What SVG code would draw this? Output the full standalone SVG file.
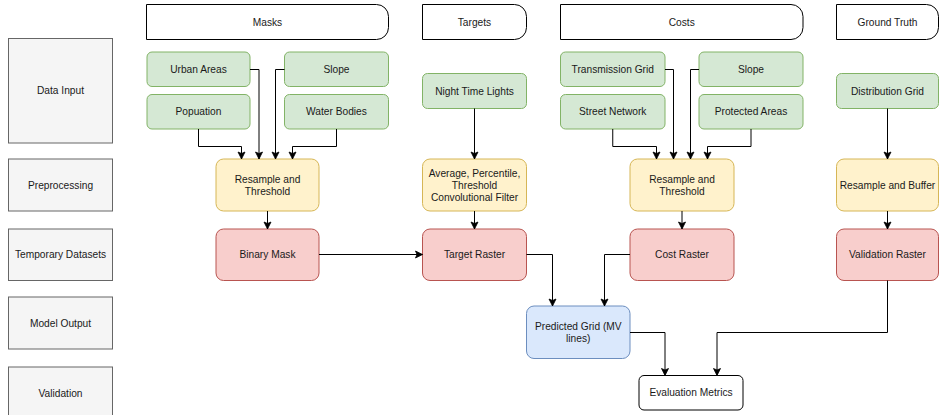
<svg xmlns="http://www.w3.org/2000/svg" width="939" height="415" viewBox="0 0 939 415">
<defs>
<style>
text{font-family:"Liberation Sans",Arial,Helvetica,sans-serif;font-size:10.2px;fill:#1a1a1a;text-anchor:middle;dominant-baseline:central}
.lane{fill:#f5f5f5;stroke:#666666;stroke-width:1}
.hdr{fill:#ffffff;stroke:#000000;stroke-width:1}
.in{fill:#d5e8d4;stroke:#82b366;stroke-width:1}
.pre{fill:#fff2cc;stroke:#d6b656;stroke-width:1}
.tmp{fill:#f8cecc;stroke:#b85450;stroke-width:1}
.out{fill:#dae8fc;stroke:#6c8ebf;stroke-width:1}
.val{fill:#ffffff;stroke:#000000;stroke-width:1}
.edge{fill:none;stroke:#000000;stroke-width:1;marker-end:url(#arr)}
.line{fill:none;stroke:#000000;stroke-width:1}
</style>
<marker id="arr" markerUnits="userSpaceOnUse" markerWidth="10" markerHeight="10" viewBox="0 0 10 10" refX="8" refY="5" orient="auto">
<path d="M1,1.5 L8,5 L1,8.5 L2.5,5 Z" fill="#000000" stroke="#000000" stroke-width="0.8"/>
</marker>
</defs>

<g id="lane-data-input"><rect class="lane" x="8.5" y="38.5" width="104" height="104.5"/><text x="60.5" y="90.7">Data Input</text></g>
<g id="lane-preprocessing"><rect class="lane" x="8.5" y="159" width="104" height="52"/><text x="60.5" y="185">Preprocessing</text></g>
<g id="lane-temporary"><rect class="lane" x="8.5" y="229" width="104" height="51.5"/><text x="60.5" y="254.7">Temporary Datasets</text></g>
<g id="lane-model-output"><rect class="lane" x="8.5" y="297" width="104" height="52"/><text x="60.5" y="323">Model Output</text></g>
<g id="lane-validation"><rect class="lane" x="8.5" y="367" width="104" height="52"/><text x="60.5" y="393">Validation</text></g>

<g id="hdr-masks"><path class="hdr" d="M146.5,4.5 H376.5 A12,12 0 0 1 388.5,16.5 V27.5 A12,12 0 0 1 376.5,39.5 H146.5 Z"/><text x="267.5" y="22">Masks</text></g>
<g id="hdr-targets"><path class="hdr" d="M422.5,4.5 H514.5 A12,12 0 0 1 526.5,16.5 V27.5 A12,12 0 0 1 514.5,39.5 H422.5 Z"/><text x="474.5" y="22">Targets</text></g>
<g id="hdr-costs"><path class="hdr" d="M560.5,4.5 H791 A12,12 0 0 1 803,16.5 V27.5 A12,12 0 0 1 791,39.5 H560.5 Z"/><text x="681.75" y="22">Costs</text></g>
<g id="hdr-ground-truth"><path class="hdr" d="M836.5,4.5 H926.5 A12,12 0 0 1 938.5,16.5 V27.5 A12,12 0 0 1 926.5,39.5 H836.5 Z"/><text x="887.5" y="22">Ground Truth</text></g>

<g id="urban-areas"><rect class="in" x="147" y="52" width="103" height="34.5" rx="5"/><text x="198.5" y="69.2">Urban Areas</text></g>
<g id="slope-masks"><rect class="in" x="284.5" y="52" width="104" height="34.5" rx="5"/><text x="336.5" y="69.2">Slope</text></g>
<g id="popuation"><rect class="in" x="147" y="94.5" width="103" height="34.5" rx="5"/><text x="198.5" y="111.7">Popuation</text></g>
<g id="water-bodies"><rect class="in" x="284.5" y="94.5" width="104" height="34.5" rx="5"/><text x="336.5" y="111.7">Water Bodies</text></g>
<g id="resample-masks"><rect class="pre" x="216" y="159" width="103" height="52" rx="7.5"/><text x="267.5" y="179.2">Resample and</text><text x="267.5" y="191.2">Threshold</text></g>
<g id="binary-mask"><rect class="tmp" x="216" y="229" width="103" height="51.5" rx="7.5"/><text x="267.5" y="254.7">Binary Mask</text></g>

<g id="night-time-lights"><rect class="in" x="422.5" y="73.5" width="104" height="35" rx="5"/><text x="474.5" y="91">Night Time Lights</text></g>
<g id="average-filter"><rect class="pre" x="422.5" y="159" width="104" height="52" rx="7.5"/><text x="474.5" y="173.7">Average, Percentile,</text><text x="474.5" y="185.7">Threshold</text><text x="474.5" y="197.7">Convolutional Filter</text></g>
<g id="target-raster"><rect class="tmp" x="422.5" y="229" width="104" height="51.5" rx="7.5"/><text x="474.5" y="254.7">Target Raster</text></g>

<g id="transmission-grid"><rect class="in" x="560.5" y="52" width="104.5" height="34.5" rx="5"/><text x="612.75" y="69.2">Transmission Grid</text></g>
<g id="slope-costs"><rect class="in" x="699" y="52" width="104" height="34.5" rx="5"/><text x="751" y="69.2">Slope</text></g>
<g id="street-network"><rect class="in" x="560.5" y="94.5" width="104.5" height="34.5" rx="5"/><text x="612.75" y="111.7">Street Network</text></g>
<g id="protected-areas"><rect class="in" x="699" y="94.5" width="104" height="34.5" rx="5"/><text x="751" y="111.7">Protected Areas</text></g>
<g id="resample-costs"><rect class="pre" x="630" y="159" width="104" height="52" rx="7.5"/><text x="682" y="179.2">Resample and</text><text x="682" y="191.2">Threshold</text></g>
<g id="cost-raster"><rect class="tmp" x="630" y="229" width="104" height="51.5" rx="7.5"/><text x="682" y="254.7">Cost Raster</text></g>

<g id="distribution-grid"><rect class="in" x="836.5" y="73.5" width="102" height="35" rx="5"/><text x="887.5" y="91">Distribution Grid</text></g>
<g id="resample-buffer"><rect class="pre" x="836.5" y="159" width="102" height="52" rx="7.5"/><text x="887.5" y="185">Resample and Buffer</text></g>
<g id="validation-raster"><rect class="tmp" x="836.5" y="229" width="102" height="51.5" rx="7.5"/><text x="887.5" y="254.7">Validation Raster</text></g>

<g id="predicted-grid"><rect class="out" x="526.5" y="306" width="103.5" height="52.5" rx="7.5"/><text x="578.25" y="326.5">Predicted Grid (MV</text><text x="578.25" y="338.5">lines)</text></g>
<g id="evaluation-metrics"><rect class="val" x="639" y="375.5" width="104" height="34.5" rx="5"/><text x="691" y="392.7">Evaluation Metrics</text></g>

<g id="connectors">
<path class="edge" d="M250,69.5 H259 V159"/>
<path class="edge" d="M284.5,69.5 H275.5 V159"/>
<path class="edge" d="M198.5,129 V146.5 H241.5 V159"/>
<path class="edge" d="M336.5,129 V146.5 H292.5 V159"/>
<path class="edge" d="M267.5,211 V229"/>
<path class="edge" d="M319,254.5 H422.5"/>
<path class="edge" d="M474.5,108.5 V159"/>
<path class="edge" d="M474.5,211 V229"/>
<path class="edge" d="M526.5,254.5 H552.5 V306"/>
<path class="edge" d="M665,69.5 H673.5 V159"/>
<path class="edge" d="M699,69.5 H690.5 V159"/>
<path class="edge" d="M612.75,129 V146.5 H656.5 V159"/>
<path class="edge" d="M751,129 V146.5 H707.5 V159"/>
<path class="edge" d="M682,211 V229"/>
<path class="edge" d="M630,254.5 H604.5 V306"/>
<path class="edge" d="M887.5,108.5 V159"/>
<path class="edge" d="M887.5,211 V229"/>
<path class="edge" d="M630,332.5 H665 V375.5"/>
<path class="edge" d="M887.5,280.5 V332.5 H717 V375.5"/>
</g>
</svg>
